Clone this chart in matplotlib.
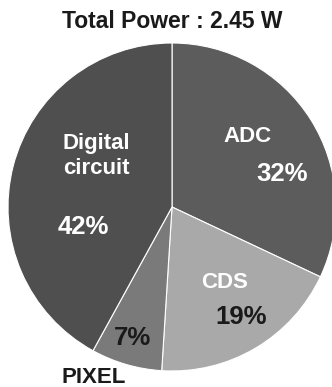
import matplotlib
matplotlib.use('Agg')
import matplotlib.pyplot as plt

# data
labels = ["ADC", "CDS", "PIXEL", "Digital\ncircuit"]
shares = [32, 19, 7, 42]
colors = ["#5c5c5c", "#a9a9a9", "#7a7a7a", "#4f4f4f"]
total_power = 2.45

plt.rcParams['font.family'] = ['Liberation Sans', 'DejaVu Sans']

fig = plt.figure(figsize=(3.32, 3.87), dpi=100)
fig.patch.set_facecolor("white")
ax = fig.add_axes([8 / 332, 16 / 387, 328 / 332, 328 / 387])

ax.pie(shares, colors=colors, startangle=90, counterclock=False, radius=1,
       wedgeprops=dict(edgecolor="white", linewidth=0.8))
ax.set_xlim(-1, 1)
ax.set_ylim(-1, 1)
ax.set_aspect('equal')
ax.axis('off')

# label placement (name pos, pct pos, name colour, pct colour)
name_pos = [(0.46, 0.43), (0.32, -0.46), (-0.48, -1.04), (-0.46, 0.31)]
pct_pos = [(0.67, 0.20), (0.42, -0.67), (-0.24, -0.80), (-0.54, -0.12)]
name_col = ["white", "white", "#1a1a1a", "white"]
pct_col = ["white", "#1a1a1a", "#1a1a1a", "white"]

for lab, s, npos, ppos, nc, pc in zip(labels, shares, name_pos, pct_pos, name_col, pct_col):
    ax.text(*npos, lab, ha='center', va='center', color=nc, fontsize=16,
            fontweight='bold', linespacing=1.22, clip_on=False)
    ax.text(*ppos, f"{s}%", ha='center', va='center', color=pc,
            fontsize=18.5, fontweight='bold', clip_on=False)

fig.text(172 / 332, 1 - 21 / 387, f"Total Power : {total_power} W", ha='center',
         va='center', fontsize=16.5, fontweight='bold', color="#1a1a1a")

fig.savefig("out.png", dpi=100, facecolor="white")
